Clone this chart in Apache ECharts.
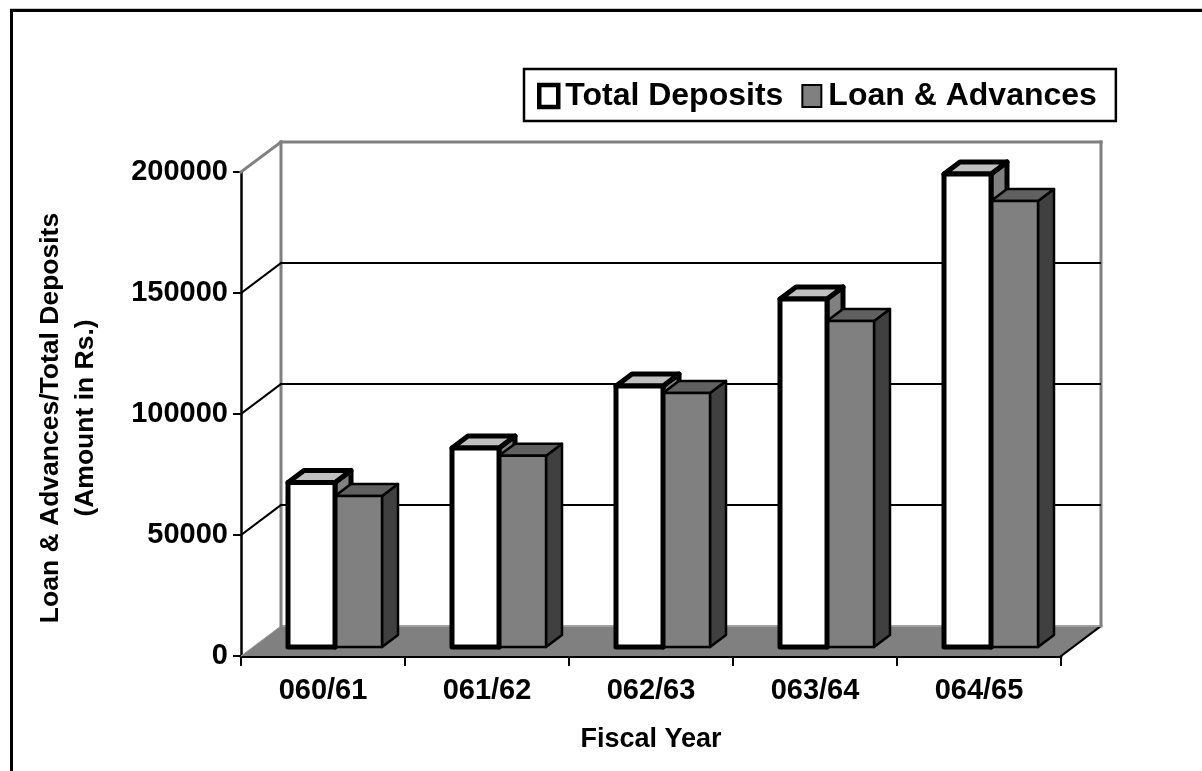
<!DOCTYPE html>
<html>
<head>
<meta charset="utf-8">
<style>html,body{margin:0;padding:0;background:#fff}#chart{width:1202px;height:771px}</style>
<script src="https://cdn.jsdelivr.net/npm/echarts@6/dist/echarts.min.js"></script>
</head>
<body>
<div id="chart"></div>
<script>
// Fiscal-year deposits and lending, drawn as extruded columns on a box-shaped plot.
const fiscalYears = ['060/61', '061/62', '062/63', '063/64', '064/65'];
const totalDeposits = [68000, 82200, 107800, 143800, 195500];
const loanAdvances = [62400, 79000, 105000, 134700, 184300];
const wallTicks = [50000, 100000, 150000];

const FONT = '"Liberation Sans", Arial, sans-serif';
const BOX_DX = 40, BOX_DY = 30;      // depth of the plot box
const BAR_DX = 16, BAR_DY = 12;      // depth of one column
const INSET_X = 12, INSET_Y = 9;     // columns stand in the middle of the floor
const BAR_W = 47;

function poly(points, fill, stroke, lineWidth, z2) {
  return {
    type: 'polygon', z2,
    shape: { points },
    style: { fill, stroke, lineWidth, lineJoin: 'round' }
  };
}
function line(x1, y1, x2, y2, stroke, lineWidth, z2) {
  return { type: 'line', z2, shape: { x1, y1, x2, y2 }, style: { stroke, lineWidth, lineCap: 'square' } };
}

// Floor, back wall and wall gridlines, positioned from the value axis.
function renderBox(params, api) {
  const g = params.coordSys;
  const left = g.x, right = g.x + g.width;
  const y0 = api.coord([0, 0])[1];
  const yTop = api.coord([0, 200000])[1];
  const grey = '#808080';
  const kids = [
    poly([[left, y0], [left + BOX_DX, y0 - BOX_DY], [right + BOX_DX, y0 - BOX_DY], [right, y0]], grey, null, 0, 0),
    line(left, y0, left + BOX_DX, y0 - BOX_DY, '#999', 1, 1),
    line(right, y0, right + BOX_DX, y0 - BOX_DY, '#000', 2, 1),
    line(left + BOX_DX, y0 - BOX_DY, right + BOX_DX, y0 - BOX_DY, '#a0a0a0', 2, 1),
    line(left + BOX_DX, yTop - BOX_DY, left + BOX_DX, y0 - BOX_DY, grey, 3, 1),
    line(right + BOX_DX, yTop - BOX_DY, right + BOX_DX, y0 - BOX_DY, grey, 3, 1),
    line(left + BOX_DX, yTop - BOX_DY, right + BOX_DX, yTop - BOX_DY, grey, 3, 1),
    line(left, yTop, left + BOX_DX, yTop - BOX_DY, grey, 3, 1)
  ];
  wallTicks.forEach(v => {
    const y = api.coord([0, v])[1];
    kids.push(line(left, y, left + BOX_DX, y - BOX_DY, '#000', 2, 1));
    kids.push(line(left + BOX_DX, y - BOX_DY, right + BOX_DX - 1, y - BOX_DY, '#000', 2, 1));
  });
  return { type: 'group', children: kids };
}

// One extruded column: front, top and right faces.
function columnRenderer(opts) {
  return function (params, api) {
    const cat = api.value(0), val = api.value(1);
    const cx = api.coord([cat, val])[0] + INSET_X;
    const x0 = cx + opts.offset * BAR_W, x1 = x0 + BAR_W;
    const yT = api.coord([cat, val])[1] - INSET_Y;
    const yB = api.coord([cat, 0])[1] - INSET_Y;
    const lw = opts.lineWidth;
    return {
      type: 'group',
      children: [
        poly([[x1, yT], [x1 + BAR_DX, yT - BAR_DY], [x1 + BAR_DX, yB - BAR_DY], [x1, yB]], opts.side, '#000', lw, opts.backZ),
        poly([[x0, yT], [x0 + BAR_DX, yT - BAR_DY], [x1 + BAR_DX, yT - BAR_DY], [x1, yT]], opts.top, '#000', lw, opts.backZ),
        poly([[x0, yT], [x1, yT], [x1, yB], [x0, yB]], opts.front, '#000', lw, opts.frontZ)
      ]
    };
  };
}

const chart = echarts.init(document.getElementById('chart'), null, { renderer: 'canvas' });
chart.setOption({
  animation: false,
  backgroundColor: '#fff',
  textStyle: { fontFamily: FONT, color: '#000', fontWeight: 'bold' },
  grid: { left: 241, right: 141, top: 172, bottom: 115, outerBoundsMode: 'none' },
  legend: {
    left: 524, top: 69, orient: 'horizontal',
    padding: [11, 19, 9, 13],
    itemGap: 18, itemWidth: 19, itemHeight: 22,
    borderColor: '#000', borderWidth: 2.5, backgroundColor: '#fff',
    textStyle: { fontFamily: FONT, fontSize: 32, fontWeight: 'bold', color: '#000', padding: [0, 0, 0, 2] },
    data: [
      { name: 'Total Deposits', icon: 'rect', itemStyle: { color: '#fff', borderColor: '#000', borderWidth: 4.5 } },
      { name: 'Loan & Advances', icon: 'rect', itemStyle: { color: '#808080', borderColor: '#000', borderWidth: 2 } }
    ]
  },
  xAxis: {
    type: 'category',
    data: fiscalYears,
    name: 'Fiscal Year',
    nameLocation: 'middle',
    nameGap: 70,
    nameTextStyle: { fontFamily: FONT, fontSize: 27, fontWeight: 'bold', color: '#000' },
    axisLine: { lineStyle: { color: '#000', width: 3 } },
    axisTick: { show: true, length: 10, lineStyle: { color: '#000', width: 2 } },
    axisLabel: { fontFamily: FONT, fontSize: 29, fontWeight: 'bold', color: '#000', margin: 20 }
  },
  yAxis: {
    type: 'value',
    min: 0, max: 200000, interval: 50000,
    name: 'Loan & Advances/Total Deposits\n(Amount in Rs.)',
    nameLocation: 'middle',
    nameRotate: 90,
    nameGap: 138,
    nameTextStyle: { fontFamily: FONT, fontSize: 26.5, fontWeight: 'bold', color: '#000', lineHeight: 35, padding: [0, 8, 0, 0] },
    splitLine: { show: false },
    axisLine: { show: true, lineStyle: { color: '#000', width: 2.5 } },
    axisTick: { show: true, length: 8, lineStyle: { color: '#000', width: 2 } },
    axisLabel: { fontFamily: FONT, fontSize: 29, fontWeight: 'bold', color: '#000', margin: 13, formatter: v => String(v) }
  },
  series: [
    {
      type: 'custom', name: 'box', z: 1, silent: true,
      data: [[0, 0]],
      renderItem: renderBox
    },
    {
      type: 'custom', name: 'Total Deposits', z: 2,
      itemStyle: { color: '#fff', borderColor: '#000', borderWidth: 4 },
      data: totalDeposits.map((v, i) => [i, v]),
      renderItem: columnRenderer({ offset: -1, front: '#fff', top: '#c0c0c0', side: '#808080', lineWidth: 5, backZ: 1, frontZ: 3 })
    },
    {
      type: 'custom', name: 'Loan & Advances', z: 2,
      itemStyle: { color: '#808080', borderColor: '#000', borderWidth: 2 },
      data: loanAdvances.map((v, i) => [i, v]),
      renderItem: columnRenderer({ offset: 0, front: '#808080', top: '#606060', side: '#404040', lineWidth: 2.5, backZ: 2, frontZ: 2 })
    }
  ],
  graphic: [
    { type: 'line', z: 0, shape: { x1: 10, y1: 9, x2: 1202, y2: 9 }, style: { stroke: '#8c8c8c', lineWidth: 1 } },
    { type: 'line', z: 0, shape: { x1: 10, y1: 10.5, x2: 1202, y2: 10.5 }, style: { stroke: '#000', lineWidth: 3 } },
    { type: 'line', z: 0, shape: { x1: 11.5, y1: 9, x2: 11.5, y2: 771 }, style: { stroke: '#000', lineWidth: 3 } }
  ]
});
</script>
</body>
</html>
